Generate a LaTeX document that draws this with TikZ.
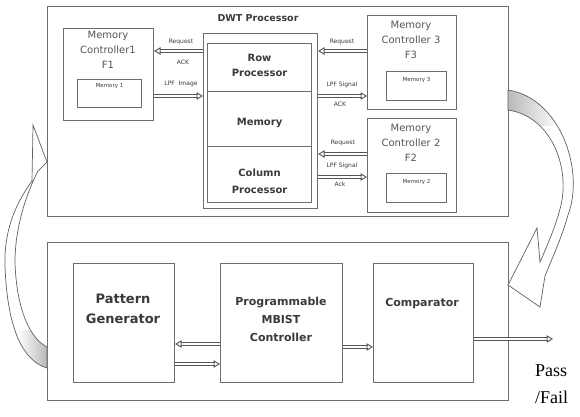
\documentclass[tikz,border=0pt]{standalone}
\usepackage{fontspec}
\setmainfont{DejaVu Sans}
\newfontfamily\passfont{Liberation Serif}
\usetikzlibrary{arrows.meta,calc,decorations.markings}

\definecolor{ink}{HTML}{3A3A3A}
\definecolor{soft}{HTML}{555555}
\definecolor{frame}{HTML}{6E6E6E}
\definecolor{rail}{HTML}{555555}

\tikzset{
  blk/.style={draw=frame, line width=1.1pt, fill=white, anchor=north west, inner sep=0pt},
  txt/.style={text=ink, align=center, inner sep=0pt},
  lbl/.style={text=ink, font=\fontsize{6}{6}\selectfont, inner sep=0pt},
  memlbl/.style={text=ink, font=\fontsize{5.5}{6}\selectfont, inner sep=0pt, anchor=north},
  % hollow signal arrow: two thin rails with an open triangular head
  hol/.style={draw=rail, line width=3.8pt, shorten >=5.5pt,
              postaction={draw=white, line width=1.8pt, shorten >=5pt},
              postaction={draw=none, decorate, decoration={markings,
                 mark=at position 1 with {\arrow[rail, line width=0.9pt]{Triangle[open, length=6.5pt, width=7.5pt]}}}}},
}

\begin{document}
\begin{tikzpicture}[x=1pt,y=-1pt]
\useasboundingbox[fill=white] (0,0) rectangle (580,416);

% ---------------- DWT processor area ----------------
\node[blk, line width=1.4pt, minimum width=461pt, minimum height=210pt] (top) at (47,6) {};
\node[txt, font=\bfseries\fontsize{9.5}{10}\selectfont] (dwtt) at (258,18) {DWT Processor};

% memory controller 1
\node[blk, minimum width=90pt, minimum height=92pt] (f1) at (63,28) {};
\node[txt, text=soft, font=\fontsize{10}{15}\selectfont, anchor=north] (f1t) at (108,31) {Memory\\Controller1\\F1};
\node[blk, minimum width=64pt, minimum height=28pt] (m1) at (77,79) {};
\node[memlbl] (m1t) at (m1.north) [yshift=-4pt] {Memory 1};

% memory controller 3
\node[blk, minimum width=89pt, minimum height=94pt] (f3) at (367,15) {};
\node[txt, text=soft, font=\fontsize{10}{15}\selectfont, anchor=north] (f3t) at (411,21) {Memory\\Controller 3\\F3};
\node[blk, minimum width=60pt, minimum height=29pt] (m3) at (386,71) {};
\node[memlbl] (m3t) at (m3.north) [yshift=-6pt] {Memory 3};

% memory controller 2
\node[blk, minimum width=89pt, minimum height=94pt] (f2) at (367,118) {};
\node[txt, text=soft, font=\fontsize{10}{15}\selectfont, anchor=north] (f2t) at (411,124) {Memory\\Controller 2\\F2};
\node[blk, minimum width=60pt, minimum height=29pt] (m2) at (386,173) {};
\node[memlbl] (m2t) at (m2.north) [yshift=-6pt] {Memory 2};

% DWT core with double outline and three cells
\node[blk, minimum width=114pt, minimum height=175pt] (dwt) at (203,33) {};
\node[blk, minimum width=104pt, minimum height=48pt] (row) at (207,43) {};
\node[blk, minimum width=104pt, minimum height=55pt] (mem) at (207,91) {};
\node[blk, minimum width=104pt, minimum height=56pt] (col) at (207,146) {};
\node[txt, font=\bfseries\fontsize{10}{15}\selectfont] (rowt) at (row.center) [yshift=2pt] {Row\\Processor};
\node[txt, font=\bfseries\fontsize{10}{15}\selectfont] (memt) at (mem.center) [yshift=-4pt] {Memory};
\node[txt, font=\bfseries\fontsize{10}{17}\selectfont] (colt) at (col.center) [yshift=-7pt] {Column\\Processor};

% signal rows
\coordinate (r1) at (0,51);
\coordinate (r2) at (0,96);
\coordinate (r3) at (0,154);
\coordinate (r4) at (0,177);

\draw[hol] (dwt.west |- r1) -- (f1.east |- r1);
\draw[hol] (f1.east |- r2) -- (dwt.west |- r2);
\node[lbl] (l1) at (181,42) {Request};
\node[lbl] (l2) at (183,62) {ACK};
\node[lbl] (l3) at (181,84) {LPF\ \ Image};

\draw[hol] (f3.west |- r1) -- (dwt.east |- r1);
\draw[hol] (dwt.east |- r2) -- (f3.west |- r2);
\node[lbl] (l4) at (342,42) {Request};
\node[lbl] (l5) at (342,85) {LPF Signal};
\node[lbl] (l6) at (340,104) {ACK};

\draw[hol] (f2.west |- r3) -- (dwt.east |- r3);
\draw[hol] (dwt.east |- r4) -- (f2.west |- r4);
\node[lbl] (l7) at (343,143) {Request};
\node[lbl] (l8) at (342,166) {LPF Signal};
\node[lbl] (l9) at (340,184) {Ack};

% ---------------- MBIST area ----------------
\node[blk, line width=1.4pt, minimum width=461pt, minimum height=158pt] (bot) at (47,242) {};
\node[blk, minimum width=101pt, minimum height=119pt] (pg) at (73,263) {};
\node[blk, minimum width=122pt, minimum height=119pt] (mb) at (220,263) {};
\node[blk, minimum width=100pt, minimum height=119pt] (cmp) at (373,263) {};
\node[txt, font=\bfseries\fontsize{13}{20}\selectfont, anchor=north] (pgt) at (123,294) {Pattern\\Generator};
\node[txt, font=\bfseries\fontsize{11}{18}\selectfont, anchor=north] (mbt) at (281,297) {Programmable\\MBIST\\Controller};
\node[txt, font=\bfseries\fontsize{11}{12}\selectfont, anchor=north] (cmpt) at (422,298) {Comparator};

\coordinate (b1) at (0,344);
\coordinate (b2) at (0,364);
\coordinate (b3) at (0,347);
\coordinate (b4) at (0,339);
\coordinate (out) at (553,339);
\draw[hol] (mb.west |- b1) -- (pg.east |- b1);
\draw[hol] (pg.east |- b2) -- (mb.west |- b2);
\draw[hol] (mb.east |- b3) -- (cmp.west |- b3);
\draw[hol] (cmp.east |- b4) -- (out);

\node[text=black, font=\passfont\fontsize{18}{24}\selectfont, align=left, anchor=north west, inner sep=0pt] (pf) at (535,365) {Pass\\[3pt]/Fail};

% ---------------- feedback arrows ----------------
% right: from the DWT area down to the MBIST area
\def\rightarrowpath{(508,90) .. controls (560,98) and (585,170) .. (568,215)
   .. controls (561,240) and (552,258) .. (545,276) -- (540,307) -- (508,285)
   -- (537,228) -- (540,262) .. controls (549,242) and (557,222) .. (561,205)
   .. controls (570,165) and (550,116) .. (508,110) -- cycle}
\fill[white] \rightarrowpath;
\begin{scope}
  \clip \rightarrowpath;
  \shade[left color=gray!55, right color=white] (508,85) rectangle (560,125);
\end{scope}
\draw[draw=ink!80, line width=0.7pt] \rightarrowpath;

% left: from the MBIST area back up to the DWT area
\def\leftarrowpath{(47,347) .. controls (26,336) and (16,300) .. (15,262)
   .. controls (15,225) and (28,190) .. (38,171) -- (47,162) -- (33,125)
   -- (32,181) .. controls (14,206) and (4,232) .. (5,266)
   .. controls (7,322) and (20,360) .. (47,368) -- cycle}
\fill[white] \leftarrowpath;
\begin{scope}
  \clip \leftarrowpath;
  \shade[left color=white, right color=gray!55] (18,330) rectangle (47,375);
\end{scope}
\draw[draw=ink!80, line width=0.7pt] \leftarrowpath;

\end{tikzpicture}
\end{document}
